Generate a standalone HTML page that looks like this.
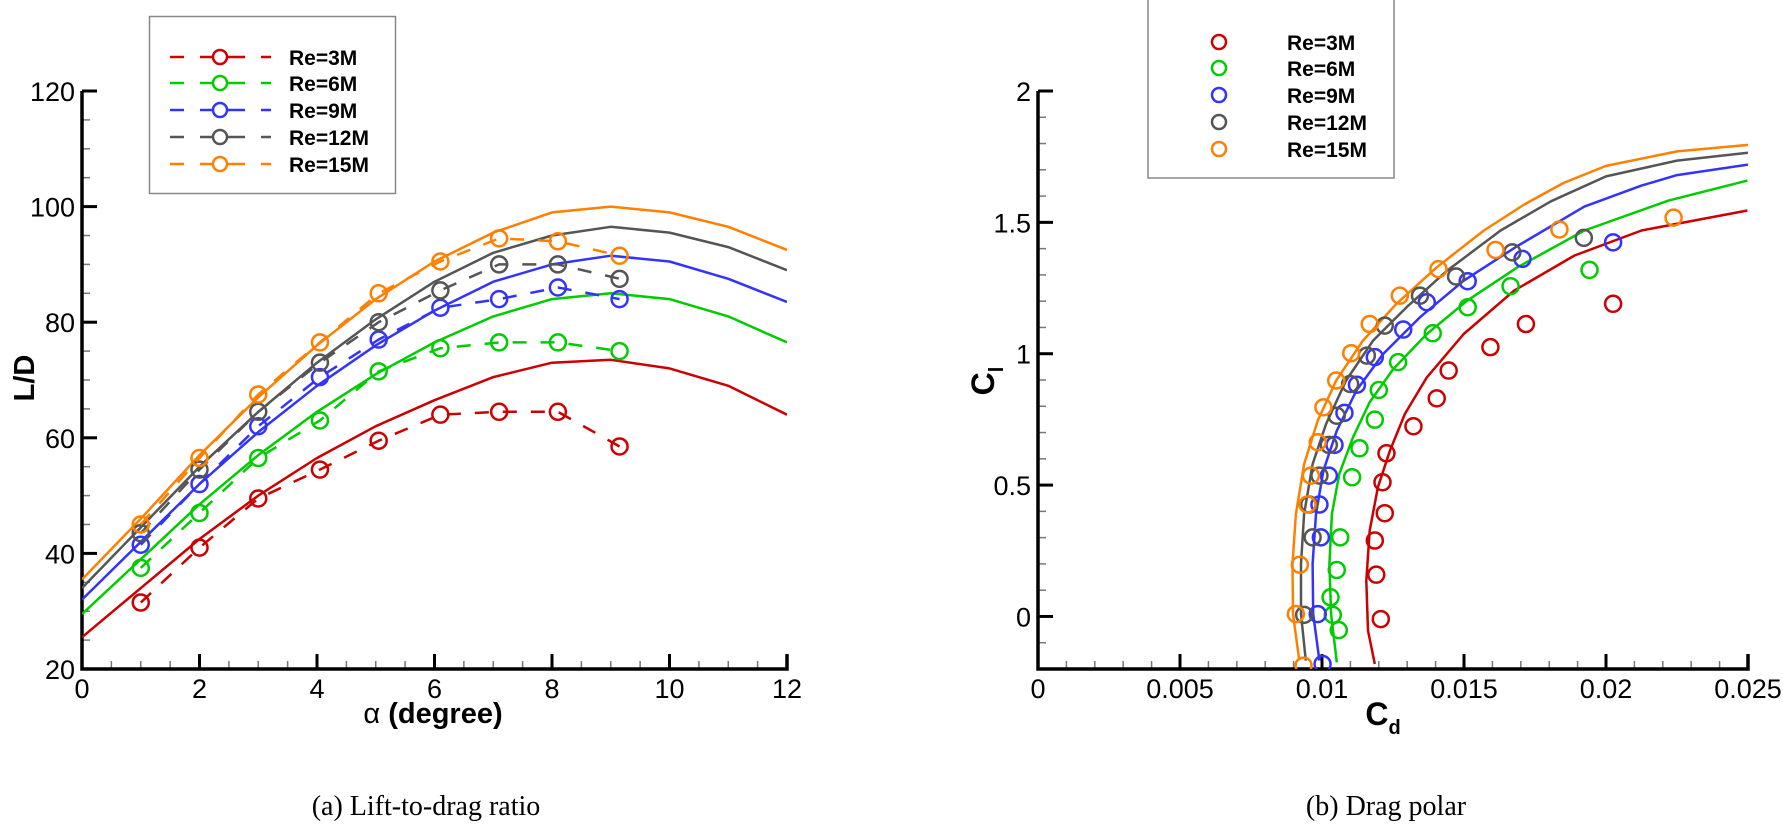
<!DOCTYPE html>
<html><head><meta charset="utf-8"><style>
html,body{margin:0;padding:0;background:#fff;}
svg{display:block;font-family:"Liberation Sans",sans-serif;}
</style></head><body>
<svg id="fig" width="1783" height="825" viewBox="0 0 1783 825" xmlns="http://www.w3.org/2000/svg">
<g id="left"></g>
<g id="right"></g>
</svg>
<script>
// ---------- data: left chart (L/D vs alpha) ----------
const seriesNames = ["Re=3M","Re=6M","Re=9M","Re=12M","Re=15M"];
const seriesColors = ["#cc0000","#00cc00","#3333ff","#555555","#ff8000"];
const alphaCfd = [0,1,2,3,4,5,6,7,8,9,10,11,12];
const ldCfd3 = [25.5,34,42.5,50,56.5,62,66.5,70.5,73,73.5,72,69,64];
const ldCfd6 = [29.5,39,48.5,57,64.5,71,76.5,81,84,85,84,81,76.5];
const ldCfd9 = [32,42,52,61,69,76,82,87,90,91.5,90.5,87.5,83.5];
const ldCfd12 = [34,44.5,55,64.5,73,80.5,87,92,95,96.5,95.5,93,89];
const ldCfd15 = [35.5,46,57,67,76,84,90.5,95.5,99,100,99,96.5,92.5];
const alphaExp = [1.0,2.0,3.0,4.05,5.05,6.1,7.1,8.1,9.15];
const ldExp3 = [31.5,41,49.5,54.5,59.5,64,64.5,64.5,58.5];
const ldExp6 = [37.5,47,56.5,63,71.5,75.5,76.5,76.5,75];
const ldExp9 = [41.5,52,62,70.5,77,82.5,84,86,84];
const ldExp12 = [43.5,54.5,64.5,73,80,85.5,90,90,87.5];
const ldExp15 = [45,56.5,67.5,76.5,85,90.5,94.5,94,91.5];
const leftXTicks = [0,2,4,6,8,10,12];
const leftYTicks = [20,40,60,80,100,120];

// ---------- data: right chart (Cl vs Cd) ----------
const cdCfd3 = [0.01186,0.01162,0.01156,0.01168,0.01197,0.01239,0.01292,0.01369,0.01499,0.01676,0.01889,0.02125,0.02498];
const clCfd3 = [-0.181,-0.054,0.136,0.327,0.492,0.631,0.771,0.910,1.075,1.240,1.374,1.469,1.545];
const cdCfd6 = [0.01052,0.01032,0.01026,0.01035,0.01061,0.01109,0.01168,0.01251,0.01369,0.01511,0.01688,0.01924,0.0222,0.02498];
const clCfd6 = [-0.175,0.009,0.200,0.390,0.543,0.682,0.816,0.942,1.075,1.202,1.329,1.469,1.583,1.659];
const cdCfd9 = [0.00991,0.00969,0.00967,0.00979,0.01005,0.01052,0.01121,0.01215,0.01345,0.01499,0.01688,0.01924,0.02125,0.0225,0.025];
const clCfd9 = [-0.168,0.009,0.200,0.390,0.555,0.707,0.860,0.999,1.139,1.278,1.410,1.560,1.640,1.680,1.72];
const cdCfd12 = [0.00943,0.00926,0.00926,0.00937,0.00967,0.01014,0.01085,0.0118,0.01298,0.0144,0.01629,0.01806,0.02,0.0225,0.025];
const clCfd12 = [-0.168,0.009,0.200,0.390,0.580,0.732,0.898,1.050,1.177,1.316,1.469,1.580,1.675,1.735,1.765];
const cdCfd15 = [0.0092,0.00898,0.00896,0.00908,0.00937,0.00985,0.0105,0.01144,0.01262,0.01404,0.0157,0.01712,0.0185,0.02,0.0225,0.025];
const clCfd15 = [-0.168,0.009,0.200,0.390,0.580,0.745,0.898,1.050,1.190,1.329,1.469,1.568,1.650,1.715,1.770,1.795];
const cdExp3 = [0.01207,0.01191,0.01186,0.01221,0.01213,0.01227,0.01322,0.01404,0.01446,0.01593,0.01718,0.02025];
const clExp3 = [-0.010,0.159,0.289,0.393,0.511,0.621,0.724,0.830,0.936,1.025,1.113,1.190];
const cdExp6 = [0.01059,0.01038,0.01030,0.01052,0.01064,0.01106,0.01132,0.01186,0.01200,0.01268,0.01390,0.01513,0.01664,0.01942];
const clExp6 = [-0.052,0.006,0.073,0.177,0.301,0.530,0.640,0.749,0.862,0.968,1.078,1.177,1.257,1.319];
const cdExp9 = [0.01002,0.00985,0.00996,0.00991,0.01024,0.01044,0.01079,0.01123,0.01186,0.01286,0.01369,0.01513,0.01706,0.02025];
const clExp9 = [-0.181,0.009,0.301,0.426,0.536,0.653,0.775,0.882,0.987,1.092,1.196,1.276,1.361,1.424];
const cdExp12 = [0.00937,0.00967,0.00955,0.00991,0.01024,0.01052,0.01099,0.01158,0.01221,0.01345,0.01472,0.01670,0.01922];
const clExp12 = [0.006,0.301,0.426,0.536,0.653,0.764,0.885,0.993,1.107,1.221,1.294,1.386,1.441];
const cdExp15 = [0.00935,0.00908,0.00922,0.00949,0.00961,0.00985,0.01005,0.0105,0.01103,0.01168,0.01274,0.0141,0.01611,0.01836,0.02238];
const clExp15 = [-0.187,0.009,0.197,0.426,0.536,0.663,0.796,0.898,1.002,1.113,1.221,1.322,1.395,1.473,1.518];
const rightXTicks = [0,0.005,0.01,0.015,0.02,0.025];
const rightXTickLabels = ["0","0.005","0.01","0.015","0.02","0.025"];
const rightYTicks = [0,0.5,1,1.5,2];
const rightYTickLabels = ["0","0.5","1","1.5","2"];

const NS = "http://www.w3.org/2000/svg";
function mk(parent, tag, attrs, text){
  const e = document.createElementNS(NS, tag);
  for (const k in attrs) e.setAttribute(k, attrs[k]);
  if (text !== undefined) e.textContent = text;
  parent.appendChild(e);
  return e;
}

const L = {x0:82, x1:787, y0:669, y1:91, xmin:0, xmax:12, ymin:20, ymax:120};
const lx = v => L.x0 + (v - L.xmin) / (L.xmax - L.xmin) * (L.x1 - L.x0);
const ly = v => L.y0 - (v - L.ymin) / (L.ymax - L.ymin) * (L.y0 - L.y1);
const R = {x0:1038, x1:1748, y0:669, y1:91, xmin:0, xmax:0.025, ymin:-0.2, ymax:2};
const rx = v => R.x0 + (v - R.xmin) / (R.xmax - R.xmin) * (R.x1 - R.x0);
const ry = v => R.y0 - (v - R.ymin) / (R.ymax - R.ymin) * (R.y0 - R.y1);

const left = document.getElementById('left');
const right = document.getElementById('right');

function axes(g, A, fx, fy, xt, xtl, yt, ytl, xminor, yminor){
  for (let v = A.xmin; v <= A.xmax + 1e-12; v += xminor) {
    const t = mk(g,'line',{x1:fx(v),x2:fx(v),y1:A.y0,y2:A.y0-8,stroke:'#777','stroke-width':1.5});
    
    
  }
  for (let v = A.ymin; v <= A.ymax + 1e-12; v += yminor) {
    const t = mk(g,'line',{x1:A.x0,x2:A.x0+8,y1:fy(v),y2:fy(v),stroke:'#777','stroke-width':1.5});
    
    
  }
  xt.forEach((v,i)=>{
    const t = mk(g,'line',{x1:fx(v),x2:fx(v),y1:A.y0,y2:A.y0-15,stroke:'#000','stroke-width':3});
    
    
    const l = mk(g,'text',{x:fx(v),y:A.y0+29,'font-size':27,'text-anchor':'middle',fill:'#000'}, xtl[i]);
    
    
  });
  yt.forEach((v,i)=>{
    const t = mk(g,'line',{x1:A.x0,x2:A.x0+15,y1:fy(v),y2:fy(v),stroke:'#000','stroke-width':3});
    
    
    const l = mk(g,'text',{x:A.x0-7,y:fy(v)+10,'font-size':27,'text-anchor':'end',fill:'#000'}, ytl[i]);
    
    
  });
  const ax = mk(g,'path',{d:`M${A.x0},${A.y1} V${A.y0} H${A.x1} V${A.y0-15}`,fill:'none',stroke:'#000','stroke-width':3.5});
  
  
}
axes(left, L, lx, ly, leftXTicks, leftXTicks.map(String), leftYTicks, leftYTicks.map(String), 0.5, 5);
axes(right, R, rx, ry, rightXTicks, rightXTickLabels, rightYTicks, rightYTickLabels, 0.001, 0.1);

function line(g, xs, ys, fx, fy, color, dash, name){
  const d = xs.map((v,i)=>(i?'L':'M')+fx(v).toFixed(1)+','+fy(ys[i]).toFixed(1)).join(' ');
  const p = mk(g,'path',{d:d,fill:'none',stroke:color,'stroke-width':2.5,'stroke-linejoin':'round'});
  if (dash) p.setAttribute('stroke-dasharray', dash);
  
  
}
function circles(g, xs, ys, fx, fy, color, name){
  xs.forEach((v,i)=>{
    const c = mk(g,'circle',{cx:fx(v),cy:fy(ys[i]),r:8,fill:'none',stroke:color,'stroke-width':2.5});
    
    
  });
}

const defs = mk(document.getElementById('fig'),'defs',{});
mk(mk(defs,'clipPath',{id:'clipL'}),'rect',{x:L.x0,y:L.y1-5,width:L.x1-L.x0,height:L.y0-L.y1+5});
mk(mk(defs,'clipPath',{id:'clipR'}),'rect',{x:R.x0,y:R.y1-5,width:R.x1-R.x0,height:R.y0-R.y1+5});
const lg = mk(left,'g',{'clip-path':'url(#clipL)'});
const rg = mk(right,'g',{'clip-path':'url(#clipR)'});

const ldCfd = [ldCfd3,ldCfd6,ldCfd9,ldCfd12,ldCfd15];
const ldExp = [ldExp3,ldExp6,ldExp9,ldExp12,ldExp15];
ldCfd.forEach((s,k)=>line(lg, alphaCfd, s, lx, ly, seriesColors[k], null, 'cfd-line-'+k));
ldExp.forEach((s,k)=>{
  line(lg, alphaExp, s, lx, ly, seriesColors[k], '14 14', 'exp-dashed-line-'+k);
  circles(lg, alphaExp, s, lx, ly, seriesColors[k], 'exp-marker-'+k);
});

const cdCfd = [cdCfd3,cdCfd6,cdCfd9,cdCfd12,cdCfd15];
const clCfd = [clCfd3,clCfd6,clCfd9,clCfd12,clCfd15];
const cdExp = [cdExp3,cdExp6,cdExp9,cdExp12,cdExp15];
const clExp = [clExp3,clExp6,clExp9,clExp12,clExp15];
cdCfd.forEach((s,k)=>line(rg, s, clCfd[k], rx, ry, seriesColors[k], null, 'polar-cfd-line-'+k));
cdExp.forEach((s,k)=>circles(rg, s, clExp[k], rx, ry, seriesColors[k], 'polar-exp-marker-'+k));

let t;
t = mk(left,'text',{x:433,y:723,'font-size':29,'font-weight':'bold','text-anchor':'middle'});
t.innerHTML = '<tspan font-weight="normal">α</tspan> (degree)';


t = mk(left,'text',{x:0,y:0,'font-size':29,'font-weight':'bold','text-anchor':'middle',transform:'translate(34,378) rotate(-90)'},'L/D');


t = mk(right,'text',{x:1383,y:725,'font-size':32,'font-weight':'bold','text-anchor':'middle'});
t.innerHTML = 'C<tspan font-size="20" dy="9">d</tspan>';


t = mk(right,'text',{x:0,y:0,'font-size':32,'font-weight':'bold','text-anchor':'middle',transform:'translate(994,381) rotate(-90)'});
t.innerHTML = 'C<tspan font-size="20" dy="9">l</tspan>';



t = mk(left,'text',{x:426,y:815,'font-size':28,'text-anchor':'middle','font-family':'Liberation Serif, serif'},'(a)  Lift-to-drag ratio');


t = mk(right,'text',{x:1386,y:815,'font-size':28,'text-anchor':'middle','font-family':'Liberation Serif, serif'},'(b)  Drag polar');



const legL = mk(left,'g',{});


mk(legL,'rect',{x:149.5,y:16.5,width:246,height:177,fill:'#fff',stroke:'#888','stroke-width':1.5});
const legRows = [57,83,110,137,164];
seriesNames.forEach((n,k)=>{
  const y = legRows[k], c = seriesColors[k];
  const e = mk(legL,'g',{});
  
  
  mk(e,'line',{x1:170,x2:184,y1:y,y2:y,stroke:c,'stroke-width':2.5});
  mk(e,'line',{x1:200,x2:245,y1:y,y2:y,stroke:c,'stroke-width':2.5});
  mk(e,'circle',{cx:220,cy:y,r:7,fill:'#fff',stroke:c,'stroke-width':2.5});
  mk(e,'line',{x1:261,x2:271,y1:y,y2:y,stroke:c,'stroke-width':2.5});
  mk(e,'text',{x:289,y:y+8,'font-size':21,'font-weight':'bold'},n);
});
const legR = mk(right,'g',{});


mk(legR,'rect',{x:1148,y:-2,width:246,height:180,fill:'#fff',stroke:'#888','stroke-width':1.5});
const legRowsR = [42,68,95,122,149];
seriesNames.forEach((n,k)=>{
  const y = legRowsR[k], c = seriesColors[k];
  const e = mk(legR,'g',{});
  
  
  mk(e,'circle',{cx:1219,cy:y,r:7,fill:'none',stroke:c,'stroke-width':2.5});
  mk(e,'text',{x:1287,y:y+8,'font-size':21,'font-weight':'bold'},n);
});
</script>
</body></html>
